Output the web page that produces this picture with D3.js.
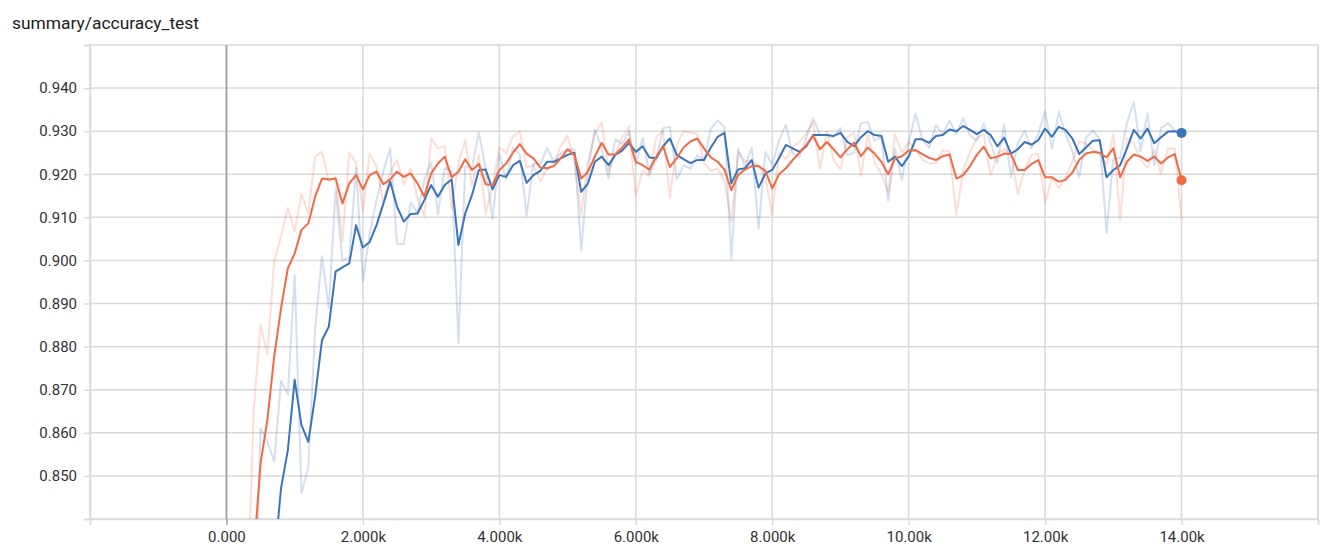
<!DOCTYPE html>
<html>
<head>
<meta charset="utf-8">
<script src="https://cdn.jsdelivr.net/npm/d3@7"></script>
<style>
  html, body { margin: 0; padding: 0; background: #fff; }
  svg { display: block; }
</style>
</head>
<body>
<svg id="chart" width="1330" height="546"></svg>
<script>
// ---------- data ----------
const title = "summary/accuracy_test";

// training steps (every 100 steps, 300 .. 14000)
const steps = [
  300,400,500,600,700,800,900,1000,1100,1200,1300,1400,1500,1600,1700,1800,1900,2000,
  2100,2200,2300,2400,2500,2600,2700,2800,2900,3000,3100,3200,3300,3400,3500,3600,3700,3800,3900,4000,
  4100,4200,4300,4400,4500,4600,4700,4800,4900,5000,5100,5200,5300,5400,5500,5600,5700,5800,5900,6000,
  6100,6200,6300,6400,6500,6600,6700,6800,6900,7000,7100,7200,7300,7400,7500,7600,7700,7800,7900,8000,
  8100,8200,8300,8400,8500,8600,8700,8800,8900,9000,9100,9200,9300,9400,9500,9600,9700,9800,9900,10000,
  10100,10200,10300,10400,10500,10600,10700,10800,10900,11000,11100,11200,11300,11400,11500,11600,11700,11800,11900,12000,
  12100,12200,12300,12400,12500,12600,12700,12800,12900,13000,13100,13200,13300,13400,13500,13600,13700,13800,13900,14000
];

// run 1 (blue): raw values
const blueRaw = [
  null,0.801,0.861,0.858,0.8533,0.872,0.869,0.8967,0.846,0.852,0.884,0.901,0.889,0.9165,0.900,0.9007,
  0.9215,0.8952,0.9063,0.914,0.9207,0.926,0.9038,0.9038,0.9135,0.911,0.9187,0.9228,0.9108,0.9215,0.9208,0.8808,
  0.9218,0.9217,0.9297,0.9213,0.9096,0.9248,0.9188,0.9262,0.9246,0.9104,0.9225,0.9223,0.9261,0.9229,0.9249,0.9257,
  0.9258,0.9023,0.9209,0.9304,0.9259,0.9191,0.9281,0.9270,0.9300,0.9221,0.9285,0.9200,0.9234,0.9307,0.9310,0.9188,
  0.9220,0.9213,0.9244,0.9233,0.9306,0.9325,0.9310,0.9004,0.9259,0.9219,0.9262,0.9073,0.9252,0.9222,0.9278,0.9315,
  0.9248,0.9240,0.9285,0.9330,0.9291,0.9291,0.9286,0.9307,0.9244,0.9250,0.9318,0.9321,0.9278,0.9286,0.9139,0.9259,
  0.9186,0.9274,0.9341,0.9281,0.9261,0.9313,0.9294,0.9324,0.9294,0.9330,0.9290,0.9278,0.9318,0.9273,0.9226,0.9315,
  0.9193,0.9273,0.9301,0.9260,0.9294,0.9347,0.9259,0.9345,0.9293,0.9253,0.9193,0.9285,0.9302,0.9281,0.9064,0.9236,
  0.9238,0.9319,0.9368,0.9253,0.9341,0.9221,0.9307,0.9319,0.9302,0.9290
];

// run 1 (blue): smoothed values
const blueSmooth = [
  null,null,null,0.8143,0.8299,0.8471,0.8560,0.8723,0.8618,0.8579,0.8684,0.8815,0.8846,0.8974,0.8984,0.8993,
  0.9082,0.9030,0.9043,0.9082,0.9132,0.9183,0.9125,0.9090,0.9108,0.9109,0.9140,0.9175,0.9148,0.9175,0.9188,0.9036,
  0.9109,0.9152,0.9210,0.9211,0.9165,0.9198,0.9194,0.9221,0.9231,0.9180,0.9198,0.9208,0.9229,0.9229,0.9237,0.9245,
  0.9250,0.9159,0.9179,0.9229,0.9241,0.9221,0.9245,0.9255,0.9273,0.9252,0.9265,0.9239,0.9237,0.9265,0.9283,0.9245,
  0.9235,0.9226,0.9233,0.9233,0.9262,0.9287,0.9296,0.9179,0.9211,0.9214,0.9233,0.9169,0.9202,0.9210,0.9237,0.9268,
  0.9260,0.9252,0.9265,0.9291,0.9291,0.9291,0.9289,0.9296,0.9275,0.9265,0.9286,0.9300,0.9291,0.9289,0.9229,0.9241,
  0.9219,0.9241,0.9281,0.9281,0.9273,0.9289,0.9291,0.9304,0.9300,0.9312,0.9303,0.9293,0.9303,0.9291,0.9265,0.9285,
  0.9248,0.9258,0.9275,0.9269,0.9279,0.9306,0.9287,0.9310,0.9303,0.9283,0.9247,0.9262,0.9278,0.9279,0.9193,0.9210,
  0.9221,0.9260,0.9303,0.9283,0.9306,0.9272,0.9286,0.9299,0.9300,0.9296
];

// run 2 (orange): raw values
const orangeRaw = [
  0.8162,0.8653,0.885,0.8782,0.8998,0.9057,0.9122,0.9067,0.9154,0.9109,0.9241,0.9253,0.9185,0.9193,0.9045,0.9250,
  0.9227,0.9116,0.9248,0.9218,0.9134,0.9205,0.9233,0.9176,0.9214,0.9145,0.9102,0.9283,0.9260,0.9265,0.9121,0.9226,
  0.9279,0.9173,0.9245,0.9107,0.9172,0.9263,0.9248,0.9288,0.9300,0.9215,0.9221,0.9185,0.9211,0.9227,0.9264,0.9290,
  0.9226,0.9108,0.9230,0.9294,0.9321,0.9206,0.9246,0.9286,0.9310,0.9151,0.9209,0.9196,0.9286,0.9301,0.9145,0.9267,
  0.9300,0.9297,0.9294,0.9226,0.9208,0.9214,0.9184,0.9091,0.9251,0.9231,0.9231,0.9219,0.9192,0.9106,0.9250,0.9235,
  0.9262,0.9276,0.9295,0.9321,0.9212,0.9301,0.9233,0.9211,0.9287,0.9296,0.9196,0.9292,0.9227,0.9201,0.9157,0.9293,
  0.9250,0.9275,0.9258,0.9234,0.9225,0.9226,0.9256,0.9252,0.9106,0.9210,0.9251,0.9284,0.9293,0.9197,0.9247,0.9259,
  0.9246,0.9155,0.9210,0.9245,0.9247,0.9133,0.9193,0.9168,0.9193,0.9230,0.9277,0.9271,0.9258,0.9247,0.9223,0.9292,
  0.9093,0.9283,0.9272,0.9234,0.9216,0.9256,0.9201,0.9260,0.9259,0.9095
];

// run 2 (orange): smoothed values
const orangeSmooth = [
  0.8090,0.8315,0.8529,0.8630,0.8777,0.8889,0.8982,0.9016,0.9071,0.9086,0.9148,0.9190,0.9188,0.9190,0.9132,0.9179,
  0.9198,0.9165,0.9198,0.9206,0.9177,0.9188,0.9206,0.9194,0.9202,0.9179,0.9148,0.9202,0.9225,0.9241,0.9193,0.9206,
  0.9235,0.9210,0.9224,0.9177,0.9175,0.9210,0.9225,0.9250,0.9270,0.9248,0.9237,0.9216,0.9214,0.9219,0.9237,0.9258,
  0.9245,0.9190,0.9206,0.9241,0.9273,0.9246,0.9246,0.9262,0.9281,0.9229,0.9221,0.9211,0.9241,0.9265,0.9217,0.9237,
  0.9262,0.9276,0.9283,0.9260,0.9239,0.9229,0.9211,0.9163,0.9198,0.9211,0.9219,0.9219,0.9208,0.9167,0.9200,0.9214,
  0.9233,0.9250,0.9268,0.9289,0.9258,0.9275,0.9258,0.9239,0.9258,0.9273,0.9242,0.9262,0.9248,0.9229,0.9200,0.9237,
  0.9242,0.9255,0.9256,0.9247,0.9238,0.9233,0.9242,0.9246,0.9190,0.9198,0.9219,0.9245,0.9264,0.9237,0.9241,0.9248,
  0.9247,0.9210,0.9210,0.9224,0.9233,0.9193,0.9193,0.9183,0.9187,0.9204,0.9233,0.9248,0.9252,0.9250,0.9239,0.9260,
  0.9193,0.9229,0.9246,0.9241,0.9231,0.9241,0.9225,0.9239,0.9247,0.9186
];

const xTicks = [-2000,0,2000,4000,6000,8000,10000,12000,14000,16000];
const xTickLabels = ["","0.000","2.000k","4.000k","6.000k","8.000k","10.00k","12.00k","14.00k",""];
const yTicks = [0.84,0.85,0.86,0.87,0.88,0.89,0.90,0.91,0.92,0.93,0.94,0.95];
const yTickLabels = ["","0.850","0.860","0.870","0.880","0.890","0.900","0.910","0.920","0.930","0.940",""];

// ---------- chart ----------
const svg = d3.select("#chart");
const L = 90, R = 1318, T = 45, B = 519;
const x = d3.scaleLinear().domain([-2000, 16000]).range([L, R]);
const y = d3.scaleLinear().domain([0.84, 0.95]).range([B, T]);

const BLUE = "#3a74b9", ORANGE = "#f26a43";
const GRID = "#dadada";
const FONT = "Roboto, 'Noto Sans', sans-serif";

svg.append("text")
  .attr("x", 12).attr("y", 29)
  .attr("font-family", FONT).attr("font-size", 17.4)
  .attr("fill", "#212121")
  .text(title);

// grid
const grid = svg.append("g");
grid.selectAll("line.h").data(yTicks).join("line")
  .attr("x1", L).attr("x2", R)
  .attr("y1", d => y(d)).attr("y2", d => y(d))
  .attr("stroke", GRID).attr("stroke-width", 1.5);
grid.selectAll("line.v").data(xTicks).join("line")
  .attr("x1", d => x(d)).attr("x2", d => x(d))
  .attr("y1", T).attr("y2", B)
  .attr("stroke", d => d === 0 ? "#9e9e9e" : (d === 16000 ? "#cfcfcf" : GRID))
  .attr("stroke-width", d => d === 0 ? 1.8 : 1.5);

// axes
const yAxis = d3.axisLeft(y).tickValues(yTicks).tickSize(6).tickPadding(7)
  .tickFormat((d, i) => yTickLabels[i]);
const gy = svg.append("g").attr("transform", `translate(${L},0)`).call(yAxis);
const xAxis = d3.axisBottom(x).tickValues(xTicks).tickSize(6).tickPadding(6)
  .tickFormat((d, i) => xTickLabels[i]);
const gx = svg.append("g").attr("transform", `translate(0,${B})`).call(xAxis);
[gx, gy].forEach(g => {
  g.select(".domain").attr("stroke", GRID).attr("stroke-width", 1.5);
  g.selectAll(".tick line").attr("stroke", GRID).attr("stroke-width", 1.5);
  g.selectAll(".tick text").attr("font-family", FONT).attr("font-size", 15).attr("fill", "#333");
});
gx.selectAll(".tick line").attr("stroke", d => d === 0 ? "#9e9e9e" : GRID);

// clip
svg.append("clipPath").attr("id", "plotclip").append("rect")
  .attr("x", L).attr("y", T).attr("width", R - L).attr("height", B - T);
const plot = svg.append("g").attr("clip-path", "url(#plotclip)");

const line = d3.line()
  .defined(d => d[1] != null)
  .x(d => x(d[0])).y(d => y(d[1]));
const pairs = arr => steps.map((s, i) => [s, arr[i]]);

plot.append("path").datum(pairs(orangeRaw)).attr("d", line)
  .attr("fill", "none").attr("stroke", ORANGE).attr("stroke-opacity", 0.22).attr("stroke-width", 2)
  .attr("stroke-linejoin", "round");
plot.append("path").datum(pairs(blueRaw)).attr("d", line)
  .attr("fill", "none").attr("stroke", BLUE).attr("stroke-opacity", 0.22).attr("stroke-width", 2)
  .attr("stroke-linejoin", "round");
plot.append("path").datum(pairs(blueSmooth)).attr("d", line)
  .attr("fill", "none").attr("stroke", BLUE).attr("stroke-width", 2)
  .attr("stroke-linejoin", "round");
plot.append("path").datum(pairs(orangeSmooth)).attr("d", line)
  .attr("fill", "none").attr("stroke", ORANGE).attr("stroke-width", 2)
  .attr("stroke-linejoin", "round");

// end dots
const last = steps.length - 1;
svg.append("circle").attr("cx", x(steps[last])).attr("cy", y(blueSmooth[last])).attr("r", 5).attr("fill", BLUE);
svg.append("circle").attr("cx", x(steps[last])).attr("cy", y(orangeSmooth[last])).attr("r", 5).attr("fill", ORANGE);
</script>
</body>
</html>
